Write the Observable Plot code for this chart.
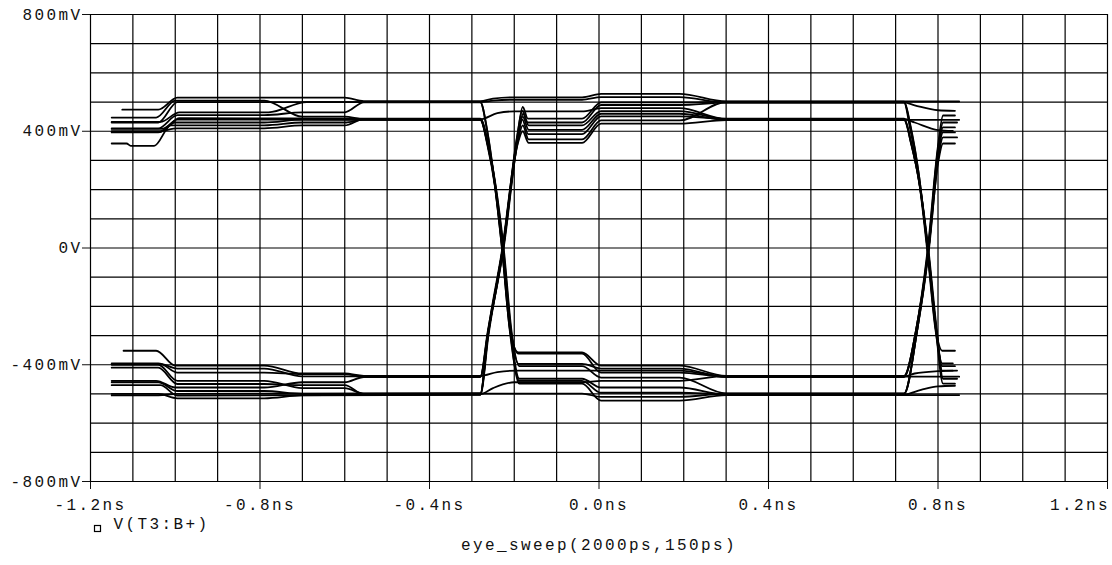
<!DOCTYPE html>
<html><head><meta charset="utf-8">
<script src="https://cdn.jsdelivr.net/npm/d3@7"></script>
<script src="https://cdn.jsdelivr.net/npm/@observablehq/plot@0.6"></script>
<style>body{margin:0;background:#fff}</style>
</head><body><div id="chart"></div>
<script>
// axis ticks and labels
const xTicks = [-1.2, -0.8, -0.4, 0, 0.4, 0.8, 1.2];
const xTickLabels = ["-1.2ns", "-0.8ns", "-0.4ns", "0.0ns", "0.4ns", "0.8ns", "1.2ns"];
const yTicks = [-800, -400, 0, 400, 800];
const yTickLabels = ["-800mV", "-400mV", "0V", "400mV", "800mV"];
const xGrid = [-1.2,-1.1,-1.0,-0.9,-0.8,-0.7,-0.6,-0.5,-0.4,-0.3,-0.2,-0.1,0,0.1,0.2,0.3,0.4,0.5,0.6,0.7,0.8,0.9,1.0,1.1,1.2];
const yGrid = [-800,-700,-600,-500,-400,-300,-200,-100,0,100,200,300,400,500,600,700,800];
const seriesName = "V(T3:B+)";
const xLabel = "eye_sweep(2000ps,150ps)";

// eye traces: [time ns, voltage mV]
const traceH1 = [[-1.125,474],[-1.04,474],[-0.995,515],[-0.60,515],[-0.555,503],[-0.28,503],[-0.25,512],[-0.20,516],[-0.04,516],[0.005,528],[0.19,528],[0.30,502],[0.72,502],[0.85,502]];
const traceH2 = [[-1.15,447],[-1.045,447],[-1.0,505],[-0.79,505],[-0.70,450],[-0.60,450],[-0.555,441],[-0.28,441],[-0.24,462],[-0.20,468],[-0.04,468],[0.005,479],[0.19,479],[0.30,442],[0.72,442],[0.745,430],[0.80,404],[0.835,401]];
const traceH3 = [[-1.15,430],[-1.04,430],[-0.995,500],[-0.28,500],[-0.25,505],[-0.20,508],[-0.04,508],[0.005,517],[0.19,517],[0.30,498],[0.72,498],[0.745,489],[0.80,472],[0.84,470]];
const traceH4 = [[-1.15,432],[-1.035,432],[-0.99,465],[-0.78,465],[-0.69,500],[-0.28,500],[-0.265,410],[-0.248,240],[-0.229,0],[-0.209,-290],[-0.19,-358],[-0.04,-358],[0.005,-403],[0.19,-403],[0.30,-438],[0.72,-438],[0.748,-283],[0.776,0],[0.80,350],[0.812,454],[0.84,454]];
const traceH5 = [[-1.15,410],[-1.04,410],[-0.995,455],[-0.79,455],[-0.70,465],[-0.60,465],[-0.555,499],[-0.28,499],[-0.264,405],[-0.247,235],[-0.228,0],[-0.208,-290],[-0.19,-362],[-0.04,-362],[0.005,-427],[0.19,-427],[0.30,-441],[0.72,-441],[0.85,-441]];
const traceH6 = [[-1.15,408],[-1.03,408],[-0.99,445],[-0.555,443],[-0.28,443],[-0.262,360],[-0.245,220],[-0.226,0],[-0.207,-290],[-0.19,-397],[-0.04,-397],[0.005,-413],[0.19,-413],[0.30,-442],[0.72,-442],[0.748,-283],[0.777,0],[0.80,340],[0.812,430],[0.845,430]];
const traceH7 = [[-1.15,398],[-1.035,398],[-0.995,440],[-0.28,439],[-0.262,355],[-0.244,215],[-0.225,0],[-0.206,-290],[-0.188,-405],[-0.04,-405],[0.005,-444],[0.19,-444],[0.30,-498],[0.72,-498],[0.75,-290],[0.778,0],[0.80,330],[0.812,413],[0.84,413]];
const traceH8 = [[-1.15,396],[-1.04,396],[-1.0,430],[-0.79,430],[-0.70,440],[-0.28,438],[-0.263,355],[-0.246,220],[-0.227,0],[-0.208,-290],[-0.188,-448],[-0.04,-448],[0.005,-478],[0.19,-478],[0.30,-502],[0.72,-502],[0.76,-486],[0.80,-474],[0.84,-472]];
const traceH9 = [[-1.15,358],[-1.115,358],[-1.105,350],[-1.05,350],[-1.01,420],[-0.79,420],[-0.70,430],[-0.60,430],[-0.555,440],[-0.28,440],[-0.263,350],[-0.246,215],[-0.229,0],[-0.21,-290],[-0.188,-455],[-0.04,-455],[0.005,-496],[0.19,-496],[0.30,-500],[0.72,-500],[0.75,-290],[0.778,0],[0.80,320],[0.812,396],[0.84,396]];
const traceH10 = [[-1.15,400],[-1.04,400],[-0.995,410],[-0.79,410],[-0.70,420],[-0.60,420],[-0.555,442],[-0.28,442],[-0.262,350],[-0.245,215],[-0.228,0],[-0.209,-290],[-0.188,-465],[-0.04,-465],[0.005,-523],[0.19,-523],[0.30,-504],[0.72,-504],[0.85,-504]];
const traceL1 = [[-1.122,-352],[-1.045,-352],[-1.0,-403],[-0.79,-403],[-0.70,-430],[-0.60,-430],[-0.555,-438],[-0.28,-438],[-0.24,-425],[-0.19,-420],[-0.04,-420],[0.19,-420],[0.30,-440],[0.72,-440],[0.745,-430],[0.80,-422],[0.845,-420]];
const traceL2 = [[-1.15,-395],[-1.04,-395],[-0.995,-413],[-0.79,-413],[-0.70,-440],[-0.28,-440],[-0.262,-290],[-0.226,0],[-0.192,390],[-0.18,483],[-0.168,443],[-0.04,443],[0.005,499],[0.19,499],[0.30,501],[0.72,501],[0.735,420],[0.755,250],[0.775,0],[0.795,-280],[0.81,-352],[0.84,-352]];
const traceL3 = [[-1.15,-398],[-1.035,-398],[-0.995,-427],[-0.79,-427],[-0.70,-432],[-0.60,-432],[-0.555,-441],[-0.28,-441],[-0.263,-290],[-0.227,0],[-0.193,385],[-0.181,470],[-0.168,430],[-0.04,430],[0.005,490],[0.19,490],[0.30,498],[0.72,498],[0.734,410],[0.754,245],[0.774,0],[0.794,-280],[0.81,-395],[0.835,-395]];
const traceL4 = [[-1.15,-400],[-1.04,-400],[-0.995,-455],[-0.79,-455],[-0.70,-480],[-0.60,-480],[-0.555,-499],[-0.28,-499],[-0.04,-499],[0.005,-510],[0.19,-510],[0.30,-499],[0.72,-499],[0.75,-290],[0.779,0],[0.80,300],[0.812,379],[0.845,379]];
const traceL5 = [[-1.15,-410],[-1.04,-410],[-0.995,-466],[-0.79,-466],[-0.70,-470],[-0.60,-470],[-0.555,-501],[-0.28,-501],[-0.25,-480],[-0.20,-460],[-0.04,-460],[0.005,-455],[0.19,-455],[0.30,-439],[0.72,-439],[0.748,-283],[0.778,0],[0.80,290],[0.812,358],[0.84,358]];
const traceL6 = [[-1.15,-455],[-1.045,-455],[-1.0,-478],[-0.79,-478],[-0.70,-460],[-0.60,-460],[-0.555,-442],[-0.28,-442],[-0.262,-290],[-0.225,0],[-0.191,380],[-0.179,460],[-0.166,420],[-0.04,420],[0.005,469],[0.19,469],[0.30,441],[0.72,441],[0.737,360],[0.756,220],[0.776,0],[0.796,-280],[0.81,-405],[0.84,-405]];
const traceL7 = [[-1.15,-460],[-1.04,-460],[-0.995,-490],[-0.79,-490],[-0.70,-500],[-0.28,-500],[-0.262,-300],[-0.227,0],[-0.192,375],[-0.18,450],[-0.166,405],[-0.04,405],[0.005,460],[0.19,460],[0.30,439],[0.72,439],[0.85,439]];
const traceL8 = [[-1.15,-470],[-1.035,-470],[-0.995,-506],[-0.28,-502],[-0.263,-300],[-0.228,0],[-0.193,370],[-0.181,440],[-0.167,390],[-0.04,390],[0.005,451],[0.19,451],[0.30,443],[0.72,443],[0.737,355],[0.757,215],[0.777,0],[0.797,-280],[0.812,-448],[0.845,-448]];
const traceL9 = [[-1.15,-500],[-1.04,-500],[-0.995,-515],[-0.79,-515],[-0.70,-505],[-0.28,-503],[-0.261,-300],[-0.226,0],[-0.192,360],[-0.18,420],[-0.166,372],[-0.04,372],[0.005,437],[0.19,437],[0.30,500],[0.72,500],[0.735,415],[0.755,250],[0.775,0],[0.795,-280],[0.812,-465],[0.84,-465]];
const traceL10 = [[-1.15,-505],[-1.04,-505],[-0.995,-500],[-0.28,-497],[-0.262,-300],[-0.227,0],[-0.193,350],[-0.18,400],[-0.166,360],[-0.04,360],[0.005,426],[0.19,426],[0.30,438],[0.72,438],[0.737,355],[0.757,215],[0.776,0],[0.796,-280],[0.81,-420],[0.835,-420]];

const traces = [traceH1,traceH2,traceH3,traceH4,traceH5,traceH6,traceH7,traceH8,traceH9,traceH10,
                traceL1,traceL2,traceL3,traceL4,traceL5,traceL6,traceL7,traceL8,traceL9,traceL10];
const rows = traces.flatMap((tr, i) => tr.map(([t, v]) => ({t, v, id: i})));

const plot = Plot.plot({
  width: 1112,
  height: 565,
  marginLeft: 90,
  marginRight: 5,
  marginTop: 14,
  marginBottom: 84,
  style: {fontFamily: "'Liberation Mono', monospace", fontSize: "16px", letterSpacing: "2.4px", background: "white", color: "#111"},
  x: {domain: [-1.2, 1.2], ticks: xTicks, tickFormat: d => xTickLabels[xTicks.indexOf(d)], tickSize: 8, tickPadding: 9, label: null},
  y: {domain: [-800, 800], ticks: yTicks, tickFormat: d => yTickLabels[yTicks.indexOf(d)], tickSize: 8, tickPadding: 0, label: null},
  marks: [
    Plot.ruleX(xGrid, {stroke: "black", strokeWidth: 1.2}),
    Plot.ruleY(yGrid, {stroke: "black", strokeWidth: 1.2}),
    Plot.line(rows, {x: "t", y: "v", z: "id", stroke: "black", strokeWidth: 1.8, curve: "monotone-x"}),
    Plot.text([xLabel], {frameAnchor: "bottom", dy: 68, text: d => d, fontSize: 16}),
    Plot.text([seriesName], {frameAnchor: "bottom-left", dx: 23, dy: 47, textAnchor: "start", text: d => d, fontSize: 16})
  ]
});
const svg = d3.select(plot);
// last x tick label sits flush right against the frame edge
svg.selectAll("text").filter(function() { return this.textContent === xTickLabels[xTickLabels.length - 1]; })
  .attr("text-anchor", "end").attr("dx", "2.4px");
svg.append("rect").attr("x", 94.5).attr("y", 525.5).attr("width", 6).attr("height", 6)
  .attr("fill", "none").attr("stroke", "black").attr("stroke-width", 1.2);
document.getElementById("chart").appendChild(plot);
</script>
</body></html>
